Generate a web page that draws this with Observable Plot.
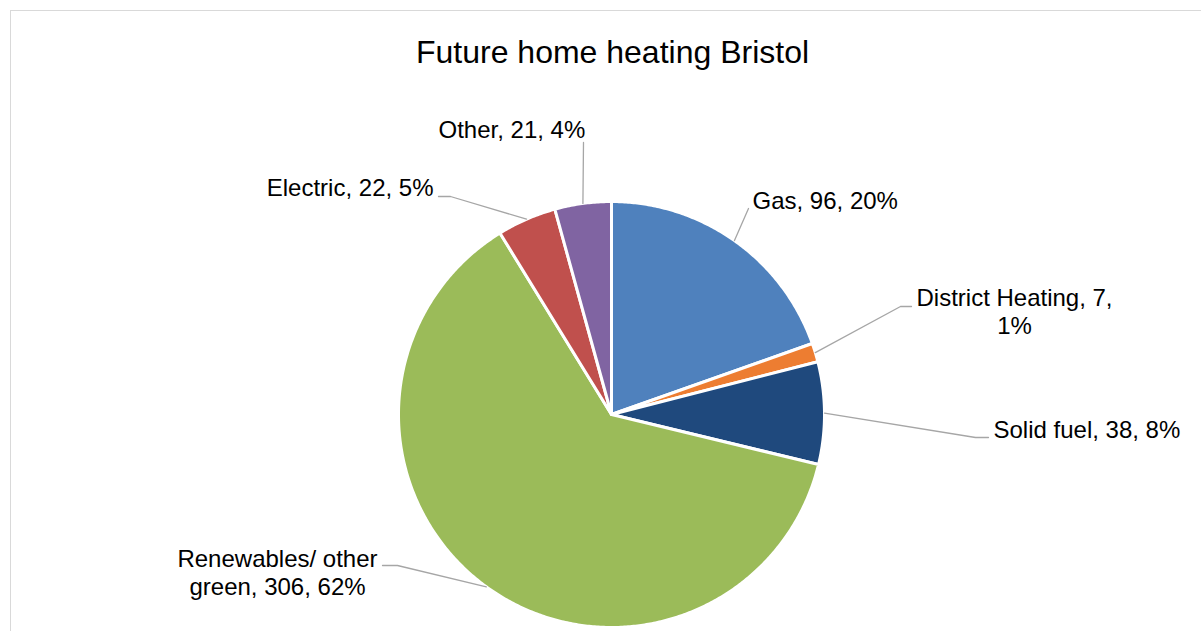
<!DOCTYPE html>
<html><head><meta charset="utf-8">
<script src="https://cdn.jsdelivr.net/npm/d3@7"></script>
<script src="https://cdn.jsdelivr.net/npm/@observablehq/plot@0.6"></script>
<style>
html,body{margin:0;padding:0;background:#fff;overflow:hidden;}
#wrap{position:relative;width:1201px;height:631px;overflow:hidden;background:#fff;}
#frame{position:absolute;left:10px;top:10px;width:1300px;height:700px;border:1.5px solid #d9d9d9;box-sizing:border-box;pointer-events:none;}
#chart{position:absolute;left:0;top:0;}
</style></head><body>
<div id="wrap"><div id="frame"></div><div id="chart"></div></div>
<script>
// ---- data ----
const title = "Future home heating Bristol";
const categories = ["Gas", "District Heating", "Solid fuel", "Renewables/ other green", "Electric", "Other"];
const values = [96, 7, 38, 306, 22, 21];
const percentLabels = ["20%", "1%", "8%", "62%", "5%", "4%"];
const labelTexts = ["Gas, 96, 20%", "District Heating, 7,\n1%", "Solid fuel, 38, 8%", "Renewables/ other\ngreen, 306, 62%", "Electric, 22, 5%", "Other, 21, 4%"];
const colors = ["#4F81BD", "#ED7D31", "#1F497D", "#9BBB59", "#C0504D", "#8064A2"];

// ---- layout (pixels) ----
const W = 1201, H = 631;
const cx = 611, cy = 414, R = 213;
const titlePos = {x: 612, y: 62};
const labelLayout = {
  "Gas": {x: 752, y: 208, anchor: "start", elbow: [[748, 208]]},
  "District Heating": {x: 1014, y: 333, anchor: "middle", elbow: [[900, 306], [911, 306]]},
  "Solid fuel": {x: 993, y: 437, anchor: "start", elbow: [[975, 437], [988, 437]]},
  "Renewables/ other green": {x: 277, y: 594, anchor: "middle", elbow: [[397, 565], [382, 565]]},
  "Electric": {x: 433, y: 195, anchor: "end", elbow: [[450, 196], [438, 196]]},
  "Other": {x: 438, y: 137, anchor: "start", elbow: [[583, 142]]}
};

const data = categories.map((c, i) => ({cat: c, value: values[i], label: labelTexts[i]}));
const arcs = d3.pie().sort(null).value(d => d.value)(data);

const slicePts = [];
const leaderPts = [];
const labelData = [];
for (const a of arcs) {
  const c = a.data.cat;
  const n = Math.max(2, Math.ceil((a.endAngle - a.startAngle) / (Math.PI / 360)));
  slicePts.push({cat: c, x: cx, y: cy});
  for (let k = 0; k <= n; k++) {
    const t = a.startAngle + (a.endAngle - a.startAngle) * k / n;
    slicePts.push({cat: c, x: cx + R * Math.sin(t), y: cy - R * Math.cos(t)});
  }
  slicePts.push({cat: c, x: cx, y: cy});
  const m = (a.startAngle + a.endAngle) / 2;
  const L = labelLayout[c];
  leaderPts.push({cat: c, x: cx + R * Math.sin(m), y: cy - R * Math.cos(m)});
  for (const [ex, ey] of L.elbow) leaderPts.push({cat: c, x: ex, y: ey});
  labelData.push({cat: c, text: a.data.label, x: L.x, y: L.y, anchor: L.anchor});
}

const textOpts = (anchor) => ({
  filter: d => d.anchor === anchor, x: "x", y: "y", text: "text",
  textAnchor: anchor, lineAnchor: "bottom", lineHeight: 1.15,
  fontSize: 24, fill: "#000"
});

const plot = Plot.plot({
  width: W, height: H, margin: 0,
  x: {domain: [0, W], range: [0, W], axis: null},
  y: {domain: [0, H], range: [0, H], axis: null},
  color: {domain: categories, range: colors},
  style: {fontFamily: "'Liberation Sans', Arial, sans-serif", background: "transparent", overflow: "visible"},
  marks: [
    Plot.line(slicePts, {x: "x", y: "y", z: "cat", fill: "cat", stroke: "white", strokeWidth: 3, curve: "linear"}),
    Plot.line(leaderPts, {x: "x", y: "y", z: "cat", stroke: "#A6A6A6", strokeWidth: 1.3, curve: "linear"}),
    Plot.text(labelData, textOpts("start")),
    Plot.text(labelData, textOpts("middle")),
    Plot.text(labelData, textOpts("end")),
    Plot.text([title], {x: () => titlePos.x, y: () => titlePos.y, text: d => d, textAnchor: "middle", lineAnchor: "bottom", fontSize: 32, fill: "#000"})
  ]
});
document.getElementById("chart").appendChild(plot);
</script>
</body></html>
